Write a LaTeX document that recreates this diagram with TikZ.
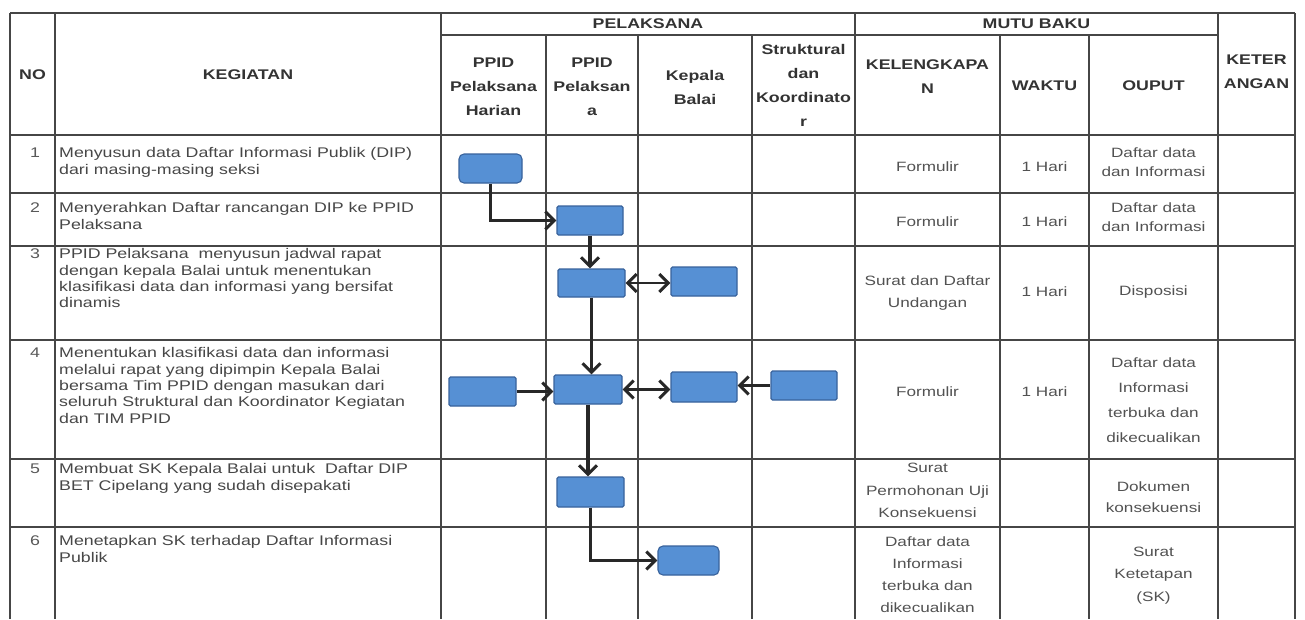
\documentclass[tikz,border=0pt]{standalone}
\usepackage{fontspec}
\setmainfont{Liberation Sans}
\newfontfamily\tf[FakeStretch=1.27]{Liberation Sans}
\usetikzlibrary{arrows.meta}
\definecolor{boxfill}{RGB}{86,144,212}
\definecolor{boxline}{RGB}{56,98,156}
\definecolor{arrowc}{RGB}{40,40,40}
\definecolor{gridc}{RGB}{70,70,70}
\begin{document}
\begin{tikzpicture}[x=1pt,y=-1pt,
  gridline/.style={draw=gridc, line width=1.3pt},
  hd/.style={font=\tf\bfseries\fontsize{14}{24}\selectfont, text=black!80, align=center, inner sep=0},
  tx/.style={font=\tf\fontsize{14}{16.3}\selectfont, text=black!72, align=left, inner sep=0, anchor=north west},
  num/.style={font=\tf\fontsize{14}{16}\selectfont, text=black!65, inner sep=0},
  mc/.style={font=\tf\fontsize{13.5}{#1}\selectfont, text=black!68, align=center, inner sep=0},
  mc/.default=21,
  flowbox/.style={draw=boxline, fill=boxfill, line width=1.1pt, rounded corners=1.5pt, inner sep=0},
  rbox/.style={flowbox, rounded corners=5pt},
  tip/.tip={Straight Barb[length=9pt,width=18pt,line width=3pt]},
  arr/.style={draw=arrowc, line width=3.4pt, -tip},
  harr/.style={draw=arrowc, line width=2.8pt, -tip},
  darr/.style={draw=arrowc, line width=2.8pt, tip-tip}
]
\useasboundingbox (0,0) rectangle (1305,619);
\fill[white] (0,0) rectangle (1305,619);

% ---------- grid ----------
\draw[gridline] (10,13) -- (1295,13);
\draw[gridline] (441,35) -- (1218,35);
\foreach \y in {135,193,246,340,459,527}
  \draw[gridline] (10,\y) -- (1295,\y);
\foreach \x in {10,55,441,855,1218,1295}
  \draw[gridline] (\x,13) -- (\x,619);
\foreach \x in {546,638,752,1000,1089}
  \draw[gridline] (\x,35) -- (\x,619);

% ---------- headers ----------
\node[hd] (hNo) at (32.5,75) {NO};
\node[hd] (hKeg) at (248,75) {KEGIATAN};
\node[hd] (hPel) at (648,24) {PELAKSANA};
\node[hd] (hPH) at (493.5,87) {PPID\\Pelaksana\\Harian};
\node[hd] (hPP) at (592,87) {PPID\\Pelaksan\\a};
\node[hd] (hKB) at (695,87.5) {Kepala\\Balai};
\node[hd] (hSK) at (803.5,85.5) {Struktural\\dan\\Koordinato\\r};
\node[hd] (hMB) at (1036.5,24) {MUTU BAKU};
\node[hd] (hKel) at (927.5,77) {KELENGKAPA\\N};
\node[hd] (hWak) at (1044.5,86) {WAKTU};
\node[hd] (hOut) at (1153.5,86) {OUPUT};
\node[hd] (hKet) at (1256.5,72) {KETER\\ANGAN};

% ---------- numbers ----------
\node[num] (n1) at (35,153) {1};
\node[num] (n2) at (35,208) {2};
\node[num] (n3) at (35,254) {3};
\node[num] (n4) at (35,353) {4};
\node[num] (n5) at (35,469) {5};
\node[num] (n6) at (35,541) {6};

% ---------- activities ----------
\node[tx] (k1) at (59,147.5) {Menyusun data Daftar Informasi Publik (DIP)\\dari masing-masing seksi};
\node[tx] (k2) at (59,202.5) {Menyerahkan Daftar rancangan DIP ke PPID\\Pelaksana};
\node[tx] (k3) at (59,248.5) {PPID Pelaksana\ \ menyusun jadwal rapat\\dengan kepala Balai untuk menentukan\\klasifikasi data dan informasi yang bersifat\\dinamis};
\node[tx] (k4) at (59,347.5) {Menentukan klasifikasi data dan informasi\\melalui rapat yang dipimpin Kepala Balai\\bersama Tim PPID dengan masukan dari\\seluruh Struktural dan Koordinator Kegiatan\\dan TIM PPID};
\node[tx] (k5) at (59,463.5) {Membuat SK Kepala Balai untuk\ \ Daftar DIP\\BET Cipelang yang sudah disepakati};
\node[tx] (k6) at (59,535.5) {Menetapkan SK terhadap Daftar Informasi\\Publik};

% ---------- mutu baku ----------
\node[mc] (f1) at (927.5,167) {Formulir};
\node[mc] (w1) at (1044.5,167) {1 Hari};
\node[mc=19] (o1) at (1153.5,162.5) {Daftar data\\dan Informasi};
\node[mc] (f2) at (927.5,222) {Formulir};
\node[mc] (w2) at (1044.5,222) {1 Hari};
\node[mc=19] (o2) at (1153.5,217.5) {Daftar data\\dan Informasi};
\node[mc=22] (f3) at (927.5,293) {Surat dan Daftar\\Undangan};
\node[mc] (w3) at (1044.5,292) {1 Hari};
\node[mc] (o3) at (1153.5,292) {Disposisi};
\node[mc] (f4) at (927.5,392) {Formulir};
\node[mc] (w4) at (1044.5,392) {1 Hari};
\node[mc=25] (o4) at (1153.5,400) {Daftar data\\Informasi\\terbuka dan\\dikecualikan};
\node[mc=22.5] (f5) at (927.5,490.5) {Surat\\Permohonan Uji\\Konsekuensi};
\node[mc] (o5) at (1153.5,497.5) {Dokumen\\konsekuensi};
\node[mc=22] (f6) at (927.5,575) {Daftar data\\Informasi\\terbuka dan\\dikecualikan};
\node[mc=22.5] (o6) at (1153.5,575.5) {Surat\\Ketetapan\\(SK)};

% ---------- flow boxes ----------
\node[rbox, minimum width=63pt, minimum height=29pt] (b1) at (490.5,168.5) {};
\node[flowbox, minimum width=66pt, minimum height=29pt] (b2) at (590,220.5) {};
\node[flowbox, minimum width=67pt, minimum height=28pt] (b3) at (591.5,283) {};
\node[flowbox, minimum width=66pt, minimum height=29pt] (b4) at (704,281.5) {};
\node[flowbox, minimum width=68pt, minimum height=29pt] (b5) at (588,389.5) {};
\node[flowbox, minimum width=67pt, minimum height=29pt] (b6) at (482.5,391.5) {};
\node[flowbox, minimum width=66pt, minimum height=30pt] (b7) at (704,387) {};
\node[flowbox, minimum width=66pt, minimum height=29pt] (b8) at (804,385.5) {};
\node[flowbox, minimum width=67pt, minimum height=30pt] (b9) at (590.5,492) {};
\node[rbox, minimum width=61pt, minimum height=29pt] (b10) at (688.5,560.5) {};

% ---------- connectors ----------
\draw[arr] (b1.south) |- (b2.west);
\draw[arr] (b2.south) -- (b2.south |- b3.north);
\draw[darr] (b3.east) -- (b3.east -| b4.west);
\draw[arr] (b3.south) -- (b3.south |- b5.north);
\draw[harr] (b6.east) -- (b6.east -| b5.west);
\draw[darr] (b5.east) -- (b5.east -| b7.west);
\draw[harr] (b8.west) -- (b8.west -| b7.east);
\draw[arr] (b5.south) -- (b5.south |- b9.north);
\draw[arr] (b9.south) |- (b10.west);
\end{tikzpicture}
\end{document}
